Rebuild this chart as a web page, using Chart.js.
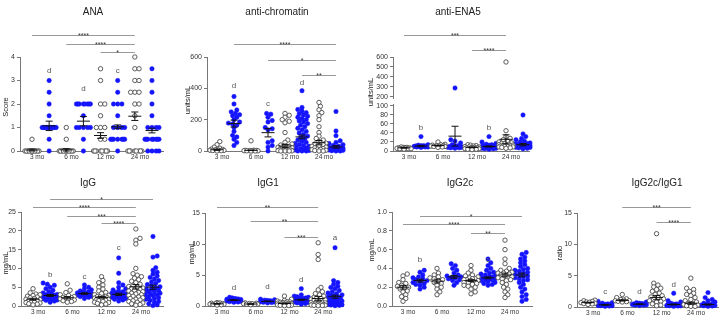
<!DOCTYPE html>
<html>
<head>
<meta charset="utf-8">
<script src="https://cdn.jsdelivr.net/npm/chart.js@4.4.0/dist/chart.umd.min.js"></script>
<style>
  body { margin: 0; background: #fff; width: 720px; height: 316px; position: relative; overflow: hidden; }
  canvas { position: absolute; }
</style>
</head>
<body>
<script>
// Etiquetas del eje x (cada una agrupa un par blanco / azul)
const edades = ['3 mo', '6 mo', '12 mo', '24 mo'];

// ---- ANA (score) ----
const anaValores = [
  [0, 0, 0, 0, 0, 0, 0, 0, 0, 0, 0, 0, 0.5],
  [0, 0.5, 1, 1, 1, 1, 1, 1, 1, 1, 1, 1, 1, 1.5, 2, 2.5, 3],
  [0, 0, 0, 0, 0, 0, 0, 0, 0, 0, 0, 0.5, 1],
  [0, 0.5, 1, 1, 1, 1, 1, 1.5, 2, 2, 2, 2, 2, 2, 2, 2],
  [0, 0, 0, 0, 0, 0, 0, 0, 0.5, 0.5, 1, 1, 1, 1.5, 2, 2, 3, 3.5],
  [0, 0.5, 0.5, 0.5, 0.5, 0.5, 0.5, 0.5, 1, 1, 1, 1, 1.5, 2, 2, 2, 2.5, 3],
  [0, 0, 0, 0, 0, 0, 0, 0, 1, 1.5, 2, 2, 2.5, 2.5, 2.5, 3, 3, 3.5, 3.5, 4],
  [0, 0, 0, 0, 0.5, 0.5, 0.5, 0.5, 0.5, 0.5, 0.5, 0.5, 1, 1, 1, 1, 1.5, 2, 2.5, 3, 3.5]
];
const anaMedias = [0.04, 1.07, 0.05, 1.27, 0.66, 1.03, 1.48, 0.87];
const anaSem = [0.04, 0.2, 0.05, 0.2, 0.12, 0.08, 0.18, 0.1];

// ---- anti-chromatin (units/mL) ----
const cromValores = [
  [60, 40, 25, 18, 12, 10, 8, 6, 5, 4, 3, 2, 0],
  [348, 300, 262, 250, 240, 232, 225, 215, 200, 185, 178, 172, 165, 150, 125, 100, 90, 75, 55, 35],
  [65, 5, 4, 3, 3, 2, 2, 1, 1, 0, 0],
  [240, 235, 215, 195, 185, 150, 142, 135, 65, 55, 35, 25, 0],
  [240, 228, 215, 200, 190, 180, 118, 70, 55, 45, 38, 32, 28, 24, 20, 16, 12, 10, 8, 6, 4, 3, 2, 1, 0, 0, 0],
  [385, 278, 265, 255, 245, 238, 230, 222, 215, 208, 200, 192, 185, 175, 165, 155, 145, 135, 125, 115, 105, 95, 85, 78, 70, 62, 55, 48, 42, 36, 30, 25, 20, 15, 10, 6, 3, 0, 0, 0],
  [310, 285, 263, 245, 225, 200, 155, 118, 95, 80, 70, 60, 50, 45, 40, 35, 30, 25, 20, 15, 12, 10, 8, 5, 3, 0, 0],
  [252, 128, 98, 65, 55, 48, 40, 35, 30, 25, 22, 18, 15, 12, 10, 8, 6, 4, 2, 0, 0]
];
const cromMedias = [8, 175, 4, 117, 32, 90, 53, 26];
const cromSem = [4, 22, 1, 27, 10, 12, 14, 8];

// ---- anti-ENA5 (units/mL, eje cortado) ----
const enaValores = [
  [9, 8, 8, 7, 7, 6, 6, 6, 5, 5, 5, 4],
  [32, 14, 13, 12, 12, 11, 11, 10, 10, 10, 9, 9, 9, 8],
  [20, 15, 14, 13, 12, 12, 11, 11, 10, 10, 9, 8],
  [290, 25, 22, 18, 14, 12, 11, 10, 10, 9, 9, 8, 8, 7, 7, 6],
  [14, 13, 12, 11, 10, 9, 9, 8, 8, 7, 7, 6, 6, 5, 5, 4, 4, 3],
  [32, 20, 17, 15, 14, 13, 12, 12, 11, 11, 10, 10, 10, 9, 9, 9, 8, 8, 8, 7, 7, 6, 6, 5, 5, 4],
  [550, 45, 32, 28, 25, 22, 20, 18, 17, 16, 15, 14, 13, 12, 12, 11, 11, 10, 10, 9, 9, 8, 7, 6],
  [80, 38, 32, 28, 25, 22, 20, 18, 17, 16, 15, 14, 14, 13, 13, 12, 12, 11, 11, 10, 10, 9, 9, 8, 8, 7, 6, 5]
];
const enaMedias = [7, 11, 12, 33, 8, 10, 26, 14];
const enaSem = [0.5, 1.5, 1, 22, 0.8, 1.2, 10, 2.5];
const enaTicks = [0, 20, 40, 60, 80, 100, 200, 300, 400, 500, 600];

// ---- IgG (mg/mL) ----
const iggValores = [
  [4.6, 3.5, 3.2, 3.0, 2.8, 2.6, 2.4, 2.2, 2.0, 1.8, 1.7, 1.5, 1.4, 1.2, 1.0, 0.9, 0.8, 0.6, 0.5, 0.3],
  [6.1, 5.8, 5.5, 5.0, 4.6, 4.2, 3.8, 3.5, 3.3, 3.1, 3.0, 2.9, 2.8, 2.7, 2.6, 2.5, 2.4, 2.2, 2.0, 1.9, 1.8, 1.6, 1.5, 1.3, 1.0],
  [5.9, 4.2, 3.6, 3.0, 2.8, 2.5, 2.3, 2.2, 2.0, 1.9, 1.8, 1.6, 1.4, 1.2, 1.0],
  [5.6, 5.0, 4.6, 4.3, 4.0, 3.8, 3.6, 3.5, 3.4, 3.3, 3.2, 3.1, 3.0, 2.9, 2.8, 2.6, 2.5, 2.3, 2.0],
  [7.8, 6.8, 6.2, 5.6, 5.0, 4.5, 4.0, 3.6, 3.3, 3.0, 2.8, 2.6, 2.5, 2.4, 2.3, 2.2, 2.1, 2.0, 1.9, 1.8, 1.7, 1.6, 1.5, 1.4, 1.2, 1.0, 0.9, 0.7, 0.5, 0.3],
  [12.8, 8.7, 6.2, 5.6, 5.0, 4.6, 4.3, 4.0, 3.8, 3.6, 3.4, 3.3, 3.2, 3.1, 3.0, 3.0, 2.9, 2.8, 2.7, 2.6, 2.5, 2.4, 2.3, 2.2, 2.0, 1.8, 1.6, 1.3],
  [20.5, 18.0, 17.5, 16.5, 10.0, 8.6, 8.2, 7.8, 7.4, 7.0, 6.6, 6.2, 5.8, 5.5, 5.2, 5.0, 4.8, 4.6, 4.4, 4.2, 4.0, 3.8, 3.6, 3.4, 3.2, 3.0, 2.8, 2.6, 2.4, 2.2, 2.0, 1.8, 1.6, 1.4, 1.2, 1.0, 0.8, 0.6, 0.4, 0.2],
  [18.5, 13.3, 13.0, 10.2, 9.5, 9.0, 8.5, 8.0, 7.6, 7.2, 6.8, 6.4, 6.0, 5.7, 5.4, 5.1, 4.8, 4.6, 4.4, 4.2, 4.0, 3.8, 3.6, 3.4, 3.2, 3.0, 2.8, 2.6, 2.4, 2.2, 2.0, 1.8, 1.5, 1.2, 1.0, 0.6, 0.3, 0.1]
];
const iggMedias = [1.8, 2.8, 2.2, 3.3, 2.3, 3.1, 5.1, 5.0];
const iggSem = [0.25, 0.25, 0.3, 0.2, 0.2, 0.3, 0.6, 0.55];

// ---- IgG1 (mg/mL) ----
const igg1Valores = [
  [0.55, 0.5, 0.45, 0.4, 0.38, 0.35, 0.3, 0.28, 0.25, 0.2, 0.15],
  [1.4, 1.3, 1.2, 1.15, 1.1, 1.05, 1.0, 1.0, 0.95, 0.9, 0.9, 0.85, 0.8, 0.8, 0.75, 0.7, 0.65, 0.6],
  [0.5, 0.45, 0.4, 0.38, 0.35, 0.3, 0.28, 0.25, 0.2],
  [1.1, 1.0, 0.95, 0.9, 0.85, 0.8, 0.78, 0.75, 0.7, 0.68, 0.65, 0.6, 0.55, 0.5],
  [1.6, 1.1, 0.9, 0.8, 0.7, 0.65, 0.6, 0.55, 0.5, 0.45, 0.4, 0.38, 0.35, 0.3, 0.28, 0.25, 0.22, 0.2, 0.18, 0.15, 0.12, 0.1, 0.08, 0.05],
  [2.8, 1.8, 1.6, 1.5, 1.4, 1.3, 1.25, 1.2, 1.15, 1.1, 1.05, 1.0, 1.0, 0.95, 0.9, 0.85, 0.8, 0.75, 0.7, 0.65, 0.6, 0.5, 0.4, 0.3],
  [10.2, 8.3, 7.5, 3.0, 2.6, 2.3, 2.0, 1.8, 1.6, 1.4, 1.3, 1.2, 1.1, 1.0, 0.9, 0.8, 0.7, 0.6, 0.55, 0.5, 0.45, 0.4, 0.35, 0.3, 0.25, 0.2, 0.18, 0.15, 0.12, 0.1, 0.08, 0.05],
  [9.4, 4.1, 3.8, 3.5, 3.2, 3.0, 2.8, 2.5, 2.3, 2.1, 2.0, 1.8, 1.7, 1.6, 1.5, 1.4, 1.3, 1.2, 1.1, 1.0, 0.9, 0.8, 0.7, 0.6, 0.5, 0.45, 0.4, 0.35, 0.3, 0.25, 0.2, 0.15, 0.1, 0.05]
];
const igg1Medias = [0.35, 0.95, 0.32, 0.75, 0.4, 1.0, 1.2, 1.5];
const igg1Sem = [0.05, 0.05, 0.03, 0.05, 0.06, 0.08, 0.35, 0.25];

// ---- IgG2c (mg/mL) ----
const igg2cValores = [
  [0.34, 0.32, 0.28, 0.25, 0.24, 0.22, 0.21, 0.2, 0.19, 0.18, 0.16, 0.15, 0.12, 0.1, 0.08, 0.05],
  [0.38, 0.36, 0.33, 0.31, 0.3, 0.29, 0.28, 0.27, 0.26, 0.25, 0.24, 0.23, 0.22, 0.2, 0.18],
  [0.4, 0.35, 0.33, 0.31, 0.3, 0.29, 0.28, 0.27, 0.25, 0.24, 0.22, 0.2, 0.18, 0.15, 0.12],
  [0.45, 0.43, 0.4, 0.38, 0.35, 0.33, 0.32, 0.31, 0.3, 0.3, 0.29, 0.28, 0.27, 0.25, 0.22],
  [0.43, 0.38, 0.35, 0.33, 0.32, 0.31, 0.3, 0.29, 0.29, 0.28, 0.28, 0.27, 0.27, 0.26, 0.25, 0.25, 0.24, 0.23, 0.22, 0.21, 0.2, 0.18, 0.15, 0.13],
  [0.5, 0.46, 0.43, 0.4, 0.38, 0.36, 0.35, 0.34, 0.33, 0.32, 0.31, 0.31, 0.3, 0.3, 0.29, 0.29, 0.28, 0.28, 0.27, 0.26, 0.25, 0.24, 0.23, 0.22],
  [0.7, 0.6, 0.5, 0.45, 0.4, 0.38, 0.37, 0.36, 0.35, 0.35, 0.34, 0.33, 0.32, 0.31, 0.3, 0.3, 0.29, 0.28, 0.27, 0.25, 0.23, 0.2, 0.18, 0.15, 0.12, 0.09],
  [0.57, 0.55, 0.52, 0.5, 0.48, 0.46, 0.44, 0.42, 0.4, 0.39, 0.38, 0.37, 0.36, 0.35, 0.34, 0.33, 0.32, 0.31, 0.3, 0.29, 0.28, 0.27, 0.25, 0.23, 0.2, 0.18, 0.15, 0.12, 0.1, 0.07, 0.05]
];
const igg2cMedias = [0.2, 0.27, 0.265, 0.31, 0.27, 0.3, 0.33, 0.33];
const igg2cSem = [0.02, 0.015, 0.02, 0.015, 0.01, 0.01, 0.02, 0.02];

// ---- IgG2c/IgG1 (ratio) ----
const ratioValores = [
  [1.1, 1.0, 0.9, 0.8, 0.75, 0.7, 0.6, 0.55, 0.5, 0.4],
  [0.9, 0.7, 0.6, 0.5, 0.45, 0.4, 0.35, 0.3, 0.3, 0.25, 0.2, 0.2, 0.15, 0.1],
  [2.0, 1.5, 1.3, 1.2, 1.1, 1.0, 1.0, 0.9, 0.85, 0.8],
  [0.8, 0.7, 0.6, 0.55, 0.5, 0.5, 0.45, 0.4, 0.4, 0.35, 0.3, 0.3, 0.25],
  [11.7, 3.8, 3.5, 3.2, 3.0, 2.8, 2.5, 2.2, 2.0, 1.8, 1.6, 1.5, 1.3, 1.2, 1.0, 0.9, 0.8, 0.5, 0.3, 0.2],
  [2.2, 1.0, 0.8, 0.6, 0.5, 0.45, 0.4, 0.35, 0.3, 0.3, 0.25, 0.2, 0.2, 0.15, 0.1],
  [4.6, 3.0, 2.8, 2.5, 2.2, 2.0, 1.8, 1.5, 1.2, 1.0, 0.8, 0.6, 0.5, 0.4, 0.3, 0.2, 0.1, 0.1],
  [2.3, 1.5, 1.2, 1.0, 0.8, 0.6, 0.5, 0.4, 0.35, 0.3, 0.25, 0.2, 0.15, 0.1]
];
const ratioMedias = [0.7, 0.35, 1.05, 0.45, 1.5, 0.4, 0.6, 0.4];
const ratioSem = [0.07, 0.06, 0.1, 0.05, 0.35, 0.07, 0.15, 0.08];

const fuente = '"Liberation Sans", Arial, sans-serif';
Chart.defaults.font.family = fuente;

// Reparte los puntos de un grupo a lo ancho (beeswarm sencillo), devuelve desplazamientos en px
function enjambre(ys) {
  const orden = ys.map((y, i) => i).sort((a, b) => ys[b] - ys[a]);
  const puestos = [];
  const offs = new Array(ys.length).fill(0);
  const paso = 1.4, minDist = 3.6, maxK = 10;
  for (const i of orden) {
    let mejor = 0, mejorDist = -1;
    for (let k = 0; k <= maxK; k++) {
      const o = (k % 2 ? 1 : -1) * Math.ceil(k / 2) * paso;
      let d = Infinity;
      for (const p of puestos) d = Math.min(d, Math.hypot(p.x - o, p.y - ys[i]));
      if (d >= minDist) { mejor = o; break; }
      if (d > mejorDist) { mejorDist = d; mejor = o; }
    }
    puestos.push({ x: mejor, y: ys[i] });
    offs[i] = mejor;
  }
  return offs;
}

function crearPanel(p) {
  const caja = p.caja, area = p.area;
  const c = document.createElement('canvas');
  c.width = caja.w; c.height = caja.h;
  c.style.left = caja.x + 'px'; c.style.top = caja.y + 'px';
  document.body.appendChild(c);

  const tr = p.transf || (v => v);
  const xMin = 1 - (p.g1 - area.x0) / p.paso;
  const xMax = xMin + (area.x1 - area.x0) / p.paso;
  const pxY = (area.abajo - area.arriba) / (tr(p.yMax) - tr(0));

  const blancos = [], azules = [];
  p.valores.forEach((grupo, i) => {
    const offs = enjambre(grupo.map(v => area.abajo - tr(v) * pxY));
    grupo.forEach((v, j) => {
      (i % 2 === 0 ? blancos : azules).push({ x: i + 1 + offs[j] / p.paso, y: tr(v) });
    });
  });

  const anotar = {
    id: 'anotar',
    afterDatasetsDraw(chart) {
      const ctx = chart.ctx, xs = chart.scales.x, ys = chart.scales.y;
      ctx.save();
      ctx.strokeStyle = '#111';
      ctx.lineWidth = 1;
      p.medias.forEach((m, i) => {
        const xc = xs.getPixelForValue(i + 1);
        const ym = ys.getPixelForValue(tr(m));
        const ya = ys.getPixelForValue(tr(m + p.sem[i]));
        const yb = ys.getPixelForValue(tr(Math.max(m - p.sem[i], 0)));
        ctx.beginPath();
        ctx.moveTo(xc - 6.5, ym); ctx.lineTo(xc + 6.5, ym);
        ctx.moveTo(xc, ya); ctx.lineTo(xc, yb);
        ctx.moveTo(xc - 3.5, ya); ctx.lineTo(xc + 3.5, ya);
        ctx.moveTo(xc - 3.5, yb); ctx.lineTo(xc + 3.5, yb);
        ctx.stroke();
      });
      ctx.restore();
    },
    afterDraw(chart) {
      const ctx = chart.ctx, xs = chart.scales.x, ys = chart.scales.y;
      ctx.save();
      // corte del eje y
      if (p.transf) {
        const yA = ys.getPixelForValue(tr(200)), yB = ys.getPixelForValue(tr(100));
        ctx.fillStyle = '#fff';
        ctx.fillRect(area.x0 - caja.x - 5, yA + 2, 8, yB - yA - 4);
      }
      ctx.textAlign = 'center';
      // titulo
      ctx.fillStyle = '#222';
      ctx.font = '10px ' + fuente;
      ctx.textBaseline = 'middle';
      ctx.fillText(p.titulo, p.tituloPos[0] - caja.x, p.tituloPos[1] - caja.y);
      // titulo del eje y
      ctx.font = '7.5px ' + fuente;
      ctx.save();
      ctx.translate(p.yTituloPos[0] - caja.x, p.yTituloPos[1] - caja.y);
      ctx.rotate(-Math.PI / 2);
      ctx.fillText(p.yTitulo, 0, 0);
      ctx.restore();
      // letras sobre los grupos
      ctx.fillStyle = '#555';
      ctx.font = '8px ' + fuente;
      p.letras.forEach(([g, v, t]) => {
        ctx.fillText(t, xs.getPixelForValue(g), ys.getPixelForValue(tr(v)));
      });
      // barras de significancia
      ctx.strokeStyle = '#999';
      ctx.lineWidth = 1;
      ctx.textBaseline = 'alphabetic';
      ctx.font = '7px ' + fuente;
      p.barras.forEach(([a, b, y, t]) => {
        const xa = xs.getPixelForValue(a), xb = xs.getPixelForValue(b);
        const yy = Math.round(y - caja.y) + 0.5;
        ctx.beginPath(); ctx.moveTo(xa, yy); ctx.lineTo(xb, yy); ctx.stroke();
        ctx.fillStyle = '#333';
        ctx.fillText(t, (xa + xb) / 2, yy + 2.5);
      });
      ctx.restore();
    }
  };

  const ejeY = {
    min: 0,
    max: tr(p.yMax),
    afterFit(s) { s.width = area.x0 - caja.x; },
    ticks: { stepSize: p.yPaso, color: '#333', font: { size: 7 }, padding: 2, autoSkip: false,
      callback: v => p.dec ? v.toFixed(p.dec) : v },
    grid: { drawOnChartArea: false, tickLength: 3, color: '#777' },
    border: { color: '#777', width: 1 }
  };
  if (p.transf) {
    ejeY.afterBuildTicks = s => { s.ticks = enaTicks.map(v => ({ value: tr(v) })); };
    ejeY.ticks.callback = (v, i) => enaTicks[i];
  }

  new Chart(c, {
    type: 'scatter',
    data: {
      datasets: [
        { data: blancos, pointRadius: 2.2, pointBackgroundColor: '#fff', pointBorderColor: '#4a4a4a', pointBorderWidth: 0.9, clip: false },
        { data: azules, pointRadius: 2.2, pointBackgroundColor: '#1414ff', pointBorderColor: '#1414ff', pointBorderWidth: 0.5, clip: false }
      ]
    },
    options: {
      animation: false,
      responsive: false,
      devicePixelRatio: 1,
      events: [],
      layout: { autoPadding: false, padding: { left: 0, top: area.arriba - caja.y, right: caja.x + caja.w - area.x1, bottom: 0 } },
      plugins: { legend: { display: false }, tooltip: { enabled: false } },
      scales: {
        x: {
          type: 'linear', min: xMin, max: xMax,
          afterFit(s) { s.height = caja.y + caja.h - area.abajo; },
          afterBuildTicks(s) { s.ticks = [1.3, 3.3, 5.3, 7.3].map(v => ({ value: v })); },
          ticks: { color: '#333', font: { size: 6.5 }, padding: 2, autoSkip: false, maxRotation: 0,
            callback: (v, i) => edades[i] },
          grid: { drawOnChartArea: false, drawTicks: false, color: '#777' },
          border: { color: '#777', width: 1 }
        },
        y: ejeY
      }
    },
    plugins: [anotar]
  });
}

// Panel superior
crearPanel({
  titulo: 'ANA', tituloPos: [93, 12], yTitulo: 'Score', yTituloPos: [6, 107],
  caja: { x: 0, y: 0, w: 170, h: 160 }, area: { x0: 20, x1: 163, arriba: 57, abajo: 151 },
  g1: 32, paso: 17.14, yMax: 4, yPaso: 1,
  valores: anaValores, medias: anaMedias, sem: anaSem,
  letras: [[2, 3.4, 'd'], [4, 2.65, 'd'], [6, 3.4, 'c']],
  barras: [[1, 7, 35, '****'], [3, 7, 44, '****'], [5, 7, 52, '*']]
});
crearPanel({
  titulo: 'anti-chromatin', tituloPos: [277, 12], yTitulo: 'units/mL', yTituloPos: [188, 100],
  caja: { x: 175, y: 0, w: 180, h: 160 }, area: { x0: 207, x1: 343, arriba: 57, abajo: 151 },
  g1: 217, paso: 17, yMax: 600, yPaso: 200,
  valores: cromValores, medias: cromMedias, sem: cromSem,
  letras: [[2, 415, 'd'], [4, 300, 'c'], [6, 438, 'd']],
  barras: [[2, 8, 44, '****'], [4, 8, 60, '*'], [6, 8, 75, '**']]
});
crearPanel({
  titulo: 'anti-ENA5', tituloPos: [458, 12], yTitulo: 'units/mL', yTituloPos: [371, 92],
  caja: { x: 360, y: 0, w: 180, h: 160 }, area: { x0: 393, x1: 529, arriba: 57, abajo: 151 },
  g1: 404, paso: 17, yMax: 600, yPaso: 20,
  transf: v => v <= 110 ? v : 110 + (v - 155) * 0.2222,
  valores: enaValores, medias: enaMedias, sem: enaSem,
  letras: [[2, 52, 'b'], [6, 52, 'b']],
  barras: [[1, 7, 35, '***'], [5, 7, 50, '****']]
});

// Panel inferior
crearPanel({
  titulo: 'IgG', tituloPos: [88, 183], yTitulo: 'mg/mL', yTituloPos: [6, 263],
  caja: { x: 0, y: 170, w: 170, h: 146 }, area: { x0: 21, x1: 163, arriba: 212, abajo: 306 },
  g1: 33, paso: 17.14, yMax: 25, yPaso: 5,
  valores: iggValores, medias: iggMedias, sem: iggSem,
  letras: [[2, 8.2, 'b'], [4, 7.7, 'c'], [6, 15.4, 'c']],
  barras: [[2, 8, 199, '*'], [1, 7, 207, '****'], [3, 7, 216, '***'], [5, 7, 223, '****']]
});
crearPanel({
  titulo: 'IgG1', tituloPos: [268, 183], yTitulo: 'mg/mL', yTituloPos: [192, 253],
  caja: { x: 180, y: 170, w: 170, h: 146 }, area: { x0: 205, x1: 343, arriba: 213, abajo: 306 },
  g1: 217, paso: 16.86, yMax: 15, yPaso: 5,
  valores: igg1Valores, medias: igg1Medias, sem: igg1Sem,
  letras: [[2, 2.9, 'd'], [4, 3.1, 'd'], [6, 4.2, 'd'], [8, 11, 'a']],
  barras: [[1, 7, 207, '**'], [3, 7, 221, '**'], [5, 7, 237, '***']]
});
crearPanel({
  titulo: 'IgG2c', tituloPos: [460, 183], yTitulo: 'mg/mL', yTituloPos: [372, 250],
  caja: { x: 362, y: 170, w: 175, h: 146 }, area: { x0: 392, x1: 532, arriba: 212, abajo: 306 },
  g1: 403, paso: 17, yMax: 1, yPaso: 0.2, dec: 1,
  valores: igg2cValores, medias: igg2cMedias, sem: igg2cSem,
  letras: [[2, 0.49, 'b'], [6, 0.49, 'c']],
  barras: [[2, 8, 216, '*'], [1, 7, 224, '****'], [5, 7, 233, '**']]
});
crearPanel({
  titulo: 'IgG2c/IgG1', tituloPos: [657, 183], yTitulo: 'ratio', yTituloPos: [560, 253],
  caja: { x: 542, y: 170, w: 178, h: 146 }, area: { x0: 577, x1: 718, arriba: 213, abajo: 307 },
  g1: 588, paso: 17.14, yMax: 15, yPaso: 5,
  valores: ratioValores, medias: ratioMedias, sem: ratioSem,
  letras: [[2, 2.4, 'c'], [4, 2.4, 'd'], [6, 3.5, 'd']],
  barras: [[3, 7, 207, '***'], [5, 7, 222, '****']]
});
</script>
</body>
</html>
